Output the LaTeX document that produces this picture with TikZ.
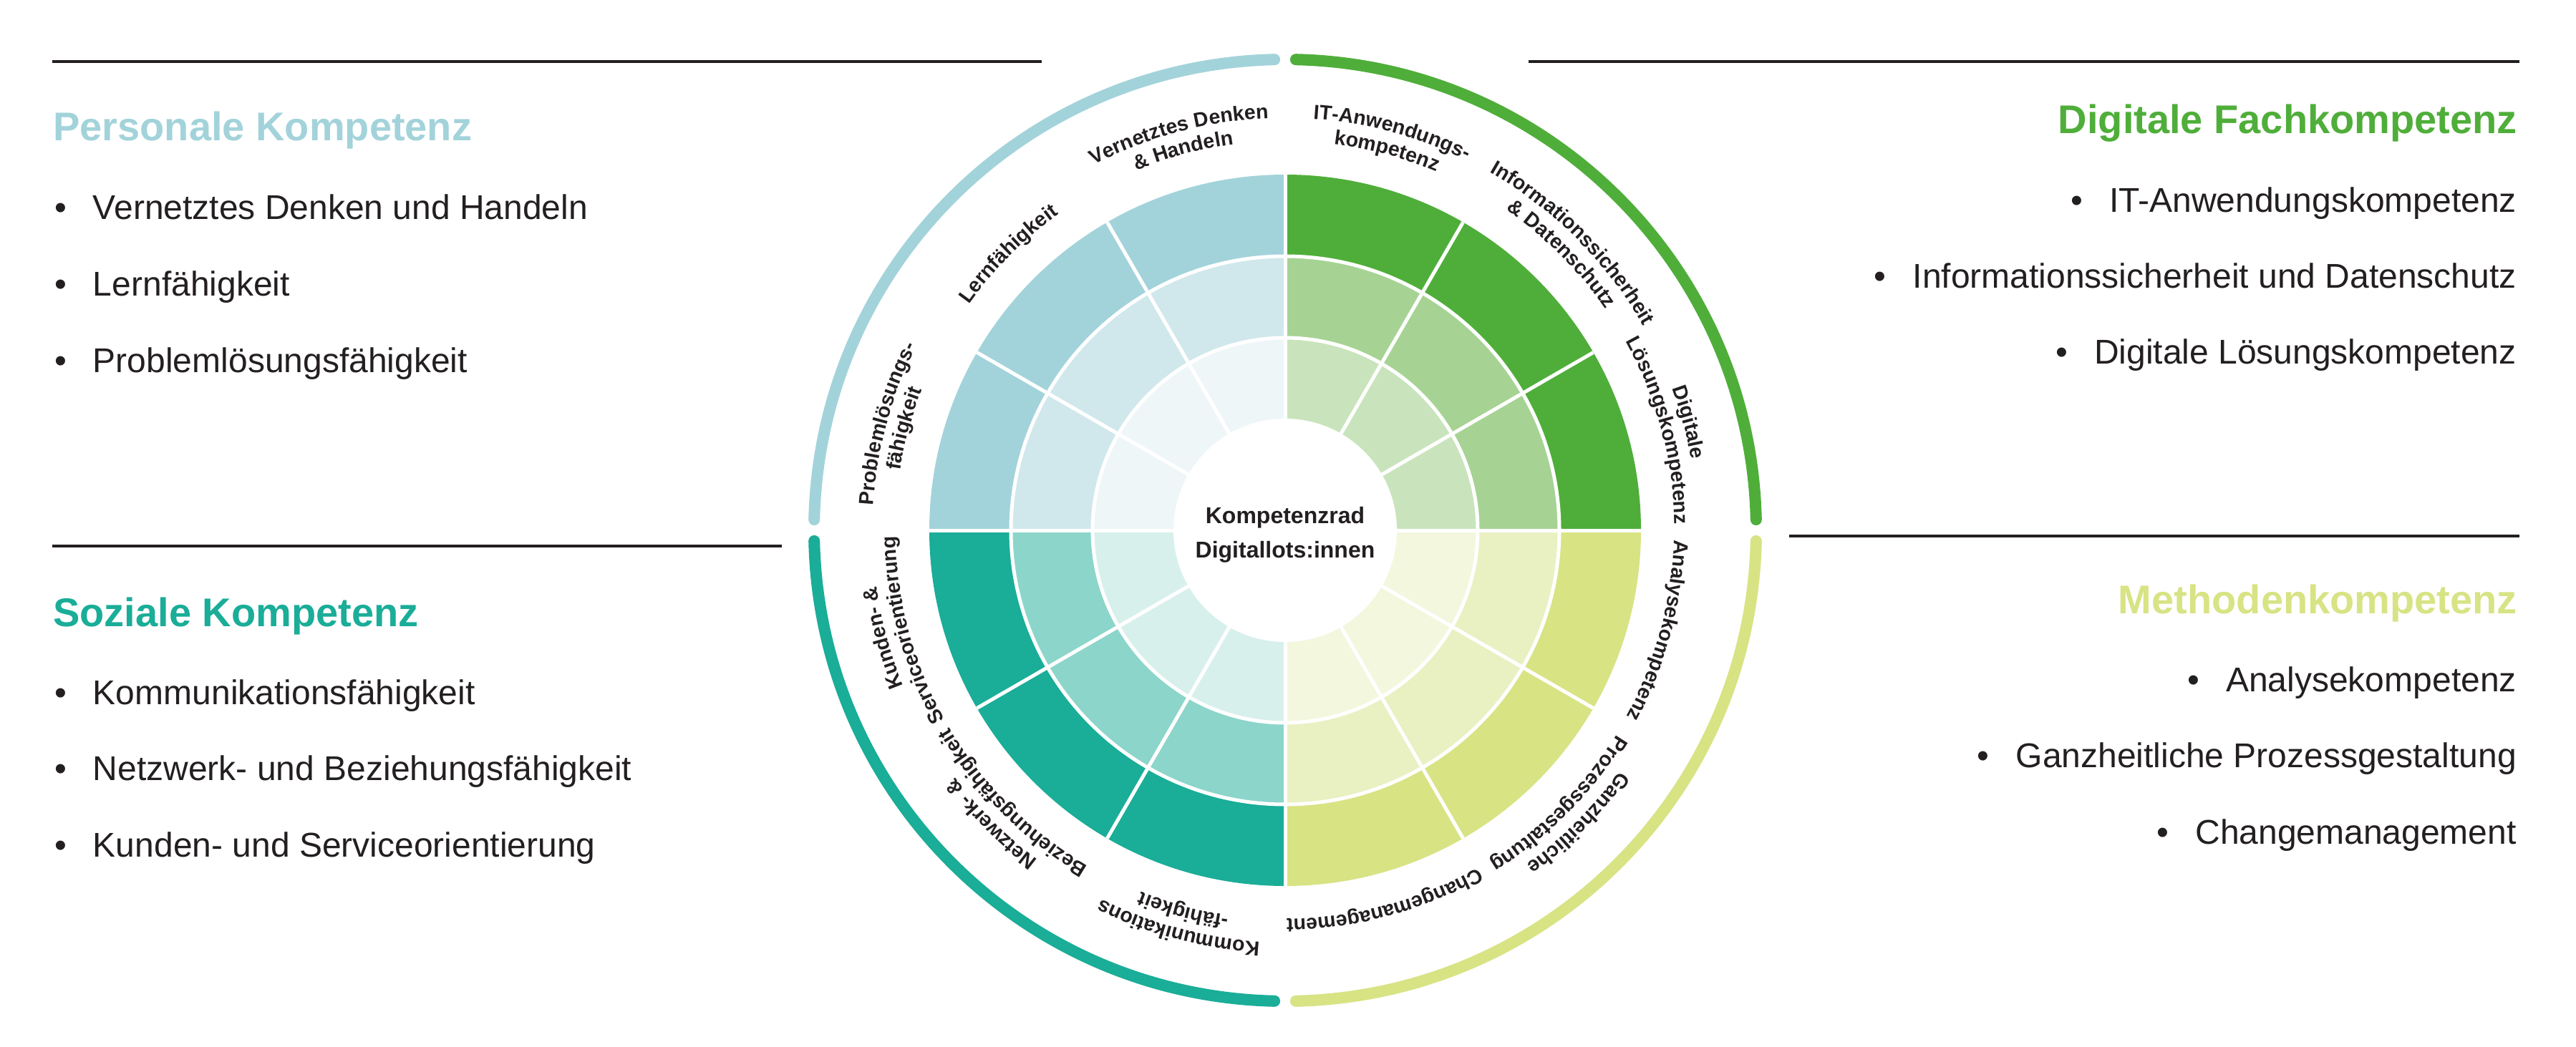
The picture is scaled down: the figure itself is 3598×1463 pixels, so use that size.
\documentclass[tikz,border=0pt]{standalone}
\usepackage{fontspec}
\setmainfont{Liberation Sans}
\usetikzlibrary{decorations.text}
\definecolor{cblue}{HTML}{A3D3DA}
\definecolor{cblueM}{HTML}{D0E8EC}
\definecolor{cblueL}{HTML}{EEF6F8}
\definecolor{cgreen}{HTML}{4FAE3A}
\definecolor{cgreenM}{HTML}{A6D394}
\definecolor{cgreenL}{HTML}{C9E4BC}
\definecolor{cteal}{HTML}{1AAD98}
\definecolor{ctealM}{HTML}{8CD5CA}
\definecolor{ctealL}{HTML}{D8F0EC}
\definecolor{cyel}{HTML}{D8E384}
\definecolor{cyelM}{HTML}{E9F0C2}
\definecolor{cyelL}{HTML}{F3F7DE}
\definecolor{ink}{HTML}{231F20}
\newcommand{\wf}{\fontsize{28.5}{30}\selectfont\bfseries\color{ink}}
\newcommand{\bul}{•\hspace{37pt}}
\newcommand{\ringlabel}[3]{%
  \path[decorate, decoration={text along path, text={|\wf|#3}, text align=center}]
    (#1+40:#2) arc[start angle=#1+40, end angle=#1-40, radius=#2];}
\begin{document}
\begin{tikzpicture}[x=1pt,y=1pt,
  headline/.style={font=\fontsize{56}{60}\selectfont\bfseries, inner sep=0pt},
  itemtext/.style={font=\fontsize{48}{54}\selectfont, text=ink, inner sep=0pt},
  ruleline/.style={draw=ink, line width=4pt},
  sepline/.style={draw=white, line width=5pt},
  rimarc/.style={line width=16pt, line cap=round},
  centertext/.style={font=\fontsize{32}{36}\selectfont\bfseries, text=ink, inner sep=0pt, anchor=base}
]
\fill[white] (0,0) rectangle (3598,-1463);
\useasboundingbox (0,0) rectangle (3598,-1463);

% rules
\draw[ruleline] (73,-86) -- (1455,-86);
\draw[ruleline] (2135,-86) -- (3519,-86);
\draw[ruleline] (73,-763) -- (1092,-763);
\draw[ruleline] (2499,-749) -- (3519,-749);

% headings
\node[headline, text=cblue, anchor=base west] (hPers) at (74,-197) {Personale Kompetenz};
\node[headline, text=cgreen, anchor=base east] (hDig) at (3516,-187) {Digitale Fachkompetenz};
\node[headline, text=cteal, anchor=base west] (hSoz) at (74,-875) {Soziale Kompetenz};
\node[headline, text=cyel, anchor=base east] (hMeth) at (3516,-857) {Methodenkompetenz};

% items left top
\node[itemtext, anchor=base west] (p1) at (76,-307) {\bul Vernetztes Denken und Handeln};
\node[itemtext, anchor=base west] (p2) at (76,-413) {\bul Lernfähigkeit};
\node[itemtext, anchor=base west] (p3) at (76,-520) {\bul Problemlösungsfähigkeit};
% items right top
\node[itemtext, anchor=base east] (d1) at (3515,-297) {\bul IT-Anwendungskompetenz};
\node[itemtext, anchor=base east] (d2) at (3515,-402) {\bul Informationssicherheit und Datenschutz};
\node[itemtext, anchor=base east] (d3) at (3515,-508) {\bul Digitale Lösungskompetenz};
% items left bottom
\node[itemtext, anchor=base west] (s1) at (76,-984) {\bul Kommunikationsfähigkeit};
\node[itemtext, anchor=base west] (s2) at (76,-1090) {\bul Netzwerk- und Beziehungsfähigkeit};
\node[itemtext, anchor=base west] (s3) at (76,-1197) {\bul Kunden- und Serviceorientierung};
% items right bottom
\node[itemtext, anchor=base east] (m1) at (3515,-966) {\bul Analysekompetenz};
\node[itemtext, anchor=base east] (m2) at (3515,-1072) {\bul Ganzheitliche Prozessgestaltung};
\node[itemtext, anchor=base east] (m3) at (3515,-1179) {\bul Changemanagement};

% wheel
\begin{scope}[shift={(1795,-741)}]
  \foreach \a/\b/\cO/\cM/\cL in {0/90/cgreen/cgreenM/cgreenL, 90/180/cblue/cblueM/cblueL, 180/270/cteal/ctealM/ctealL, 270/360/cyel/cyelM/cyelL} {
    \fill[\cO] (0,0) -- (\a:497) arc[start angle=\a, end angle=\b, radius=497] -- cycle;
    \fill[\cM] (0,0) -- (\a:383) arc[start angle=\a, end angle=\b, radius=383] -- cycle;
    \fill[\cL] (0,0) -- (\a:269) arc[start angle=\a, end angle=\b, radius=269] -- cycle;
  }
  \foreach \t in {0,30,...,330} \draw[sepline] (\t:150) -- (\t:497);
  \draw[sepline] (0,0) circle[radius=269];
  \draw[sepline] (0,0) circle[radius=383];
  \fill[white] (0,0) circle[radius=156];

  % rim arcs
  \draw[rimarc, draw=cgreen] (1.3:658) arc[start angle=1.3, end angle=88.7, radius=658];
  \draw[rimarc, draw=cblue] (91.3:658) arc[start angle=91.3, end angle=178.7, radius=658];
  \draw[rimarc, draw=cteal] (181.3:658) arc[start angle=181.3, end angle=268.7, radius=658];
  \draw[rimarc, draw=cyel] (271.3:658) arc[start angle=271.3, end angle=358.7, radius=658];

  % centre text
  \node[centertext] (ct1) at (0,10) {Kompetenzrad};
  \node[centertext] (ct2) at (0,-38) {Digitallots:innen};

  % ring labels
  \ringlabel{105}{576}{Vernetztes Denken}
  \ringlabel{105}{544}{{\&} Handeln}
  \ringlabel{135}{543}{Lernfähigkeit}
  \ringlabel{165}{576}{Problemlösungs-}
  \ringlabel{165}{544}{fähigkeit}
  \ringlabel{75}{576}{IT-Anwendungs-}
  \ringlabel{75}{544}{kompetenz}
  \ringlabel{45}{576}{Informationssicherheit}
  \ringlabel{45}{544}{{\&} Datenschutz}
  \ringlabel{15}{576}{Digitale}
  \ringlabel{15}{544}{Lösungskompetenz}
  \ringlabel{-15}{543}{Analysekompetenz}
  \ringlabel{-45}{576}{Ganzheitliche}
  \ringlabel{-45}{544}{Prozessgestaltung}
  \ringlabel{-75}{543}{Changemanagement}
  \ringlabel{-105}{576}{Kommunikations}
  \ringlabel{-105}{544}{-fähigkeit}
  \ringlabel{-135}{576}{Netzwerk- {\&}}
  \ringlabel{-135}{544}{Beziehungsfähigkeit}
  \ringlabel{-165}{576}{Kunden- {\&}}
  \ringlabel{-165}{544}{Serviceorientierung}
\end{scope}
\end{tikzpicture}
\end{document}
